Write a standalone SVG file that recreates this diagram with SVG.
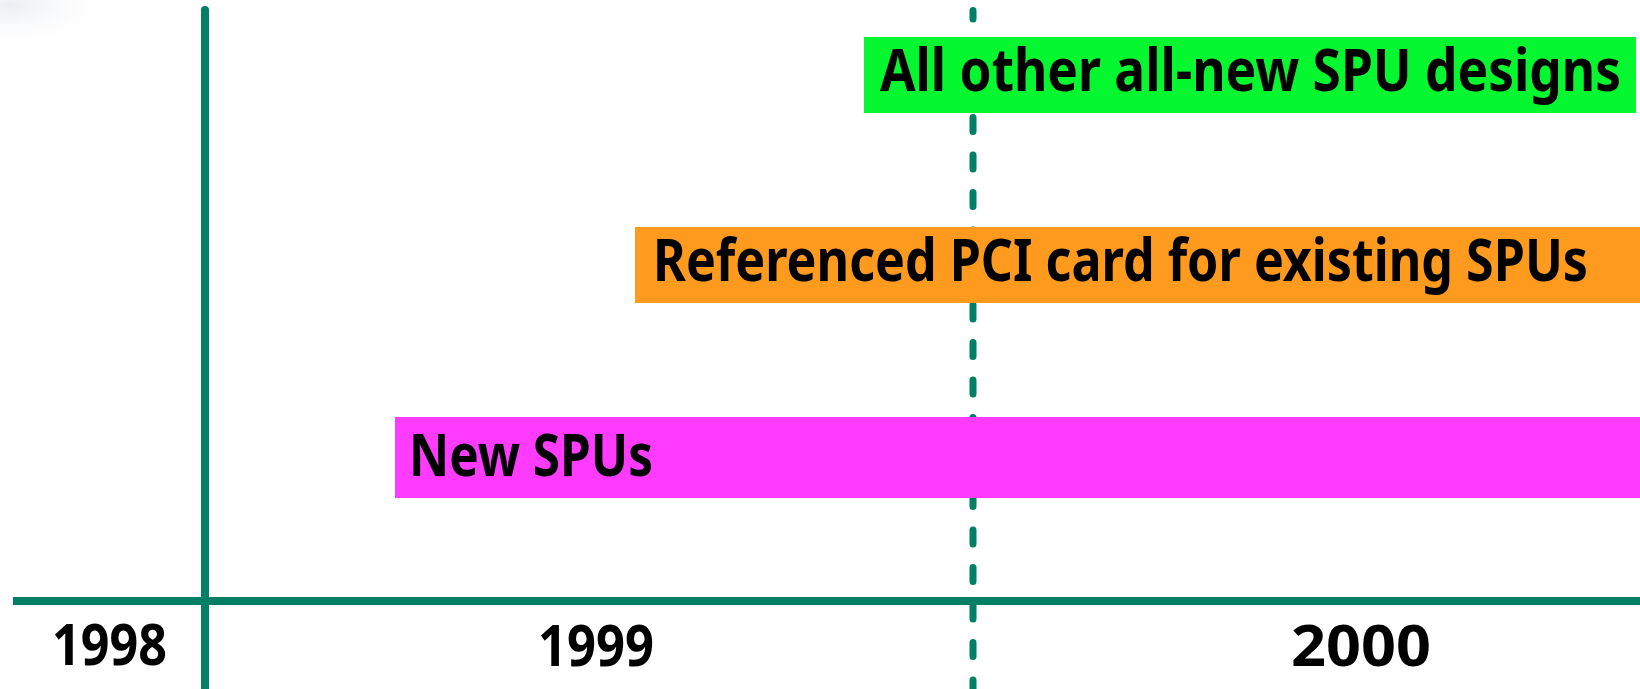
<svg xmlns="http://www.w3.org/2000/svg" width="1640" height="689" viewBox="0 0 1640 689">
  <defs>
    <radialGradient id="cornerHaze" cx="0" cy="0" r="1" gradientUnits="userSpaceOnUse" gradientTransform="translate(10 5) scale(110 45)">
      <stop offset="0" stop-color="#eceef3"/>
      <stop offset="1" stop-color="#ffffff" stop-opacity="0"/>
    </radialGradient>
  </defs>
  <style>
    .axis { stroke: #037f66; stroke-width: 8; fill: none; }
    .divider { stroke: #037f66; stroke-width: 7; fill: none; stroke-linecap: round; stroke-dasharray: 14 23.5; stroke-dashoffset: 5.5; }
    .label { font-family: "Noto Sans", "Open Sans", "Liberation Sans", sans-serif; font-weight: 700; fill: #000; }
    .bar { font-size: 60px; }
    .year { font-size: 57px; }
  </style>

  <rect width="1640" height="689" fill="#ffffff"/>
  <rect x="0" y="0" width="160" height="70" fill="url(#cornerHaze)"/>

  <!-- timeline axes and the dashed marker -->
  <g id="connectors">
    <line class="divider" x1="973" y1="10.5" x2="973" y2="692"/>
    <line class="axis" x1="13" y1="601" x2="1640" y2="601"/>
    <line class="axis" x1="205" y1="10" x2="205" y2="689" stroke-linecap="round"/>
  </g>

  <!-- bars (labels set in a condensed face: bold sans narrowed horizontally) -->
  <g id="bar-all-new">
    <rect x="864" y="37" width="772" height="76" fill="#05f72f"/>
    <text class="label bar" transform="translate(880 91) scale(0.86 1)" x="0" y="0" textLength="861.6" lengthAdjust="spacingAndGlyphs">All other all-new SPU designs</text>
  </g>
  <g id="bar-pci-card">
    <rect x="635" y="227" width="1005" height="76" fill="#fe9a1e"/>
    <text class="label bar" transform="translate(653 281) scale(0.86 1)" x="0" y="0" textLength="1087.2" lengthAdjust="spacingAndGlyphs">Referenced PCI card for existing SPUs</text>
  </g>
  <g id="bar-new-spus">
    <rect x="395" y="417" width="1245" height="81" fill="#fe3bfe"/>
    <text class="label bar" transform="translate(409 476) scale(0.86 1)" x="0" y="0" textLength="283.7" lengthAdjust="spacingAndGlyphs">New SPUs</text>
  </g>

  <!-- year labels -->
  <g id="year-1998">
    <text class="label year" transform="translate(52 665) scale(0.86 1)" x="0" y="0" textLength="133.7" lengthAdjust="spacingAndGlyphs">1998</text>
  </g>
  <g id="year-1999">
    <text class="label year" transform="translate(538 666) scale(0.86 1)" x="0" y="0" textLength="134.9" lengthAdjust="spacingAndGlyphs">1999</text>
  </g>
  <g id="year-2000">
    <text class="label year" transform="translate(1291 666) scale(0.86 1)" x="0" y="0" textLength="162.8" lengthAdjust="spacingAndGlyphs">2000</text>
  </g>
</svg>
